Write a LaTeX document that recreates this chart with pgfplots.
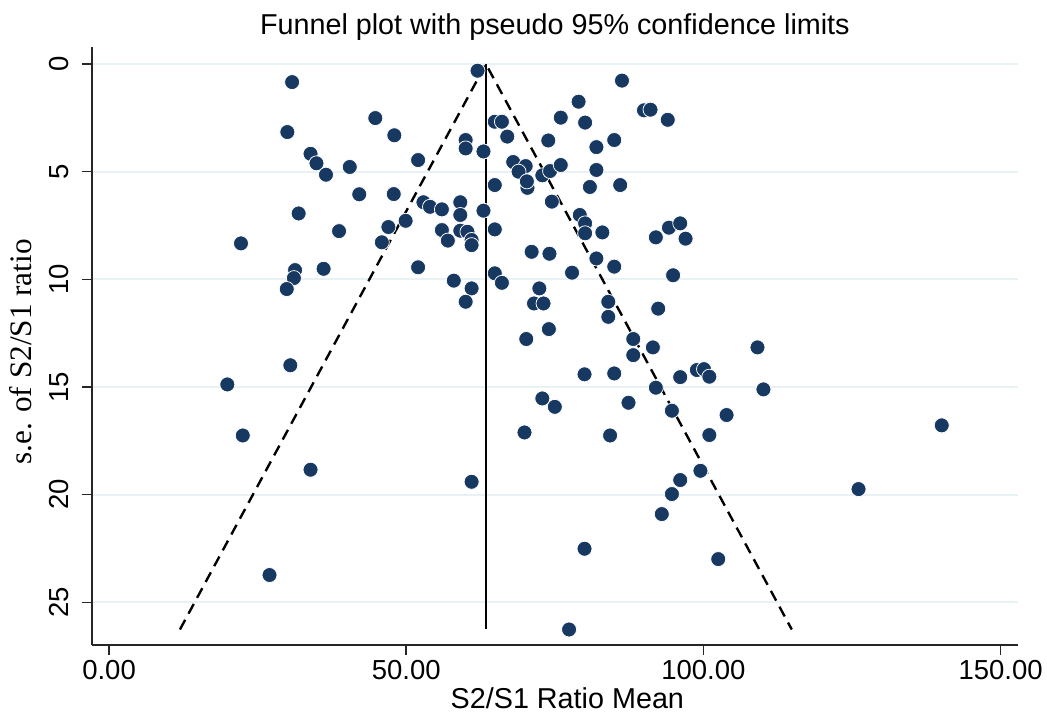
\documentclass[border=0pt]{standalone}
\usepackage{fontspec}
\setmainfont{Liberation Sans}
\newfontfamily\seriffont{Liberation Serif}
\usepackage{graphicx}
\usepackage{pgfplots}
\pgfplotsset{compat=1.18}
\definecolor{navy}{RGB}{23,57,97}
\definecolor{gridc}{RGB}{232,241,243}

\begin{document}
\begin{tikzpicture}
\begin{axis}[
    scale only axis,
    width=370.5pt, height=239.2pt,
    xmin=-2.91, xmax=152.93,
    ymin=-0.79, ymax=26.98,
    y dir=reverse,
    axis x line*=bottom, axis y line*=left,
    axis line style={line width=0.8pt, black!85},
    xtick={0,50,100,150},
    xticklabels={0.00,50.00,100.00,150.00},
    ytick={0,5,10,15,20,25},
    yticklabel={\rotatebox{90}{\pgfmathprintnumber{\tick}}},
    tick align=outside,
    major tick length=4pt,
    tick style={line width=0.6pt, black!85},
    ymajorgrids,
    grid style={line width=0.8pt, gridc},
    /pgf/number format/assume math mode=true,
    ticklabel style={font=\fontsize{11}{13}\selectfont},
    xticklabel style={anchor=base, yshift=-9.6pt, inner sep=0pt},
    yticklabel style={anchor=east, xshift=-5.1pt, inner sep=0pt},
    title={Funnel plot with pseudo 95\% confidence limits},
    title style={at={(0.5,1)}, anchor=base, yshift=-0.8pt, font=\fontsize{11.5}{13}\selectfont},
    xlabel={S2/S1 Ratio Mean},
    xlabel style={at={(0.5,0)}, anchor=base, yshift=-25.4pt, xshift=5pt, font=\fontsize{11.5}{13}\selectfont},
    ylabel={s.e. of S2/S1 ratio},
    ylabel style={at={(axis description cs:-0.065,0.49)}, anchor=base, font=\seriffont\fontsize{12.5}{14}\selectfont},
    clip=false
]
% pseudo 95% limits
\addplot[black, line width=0.95pt, dash pattern=on 4.4pt off 2.8pt] coordinates {
    (11.93,26.26) (63.4,0) (114.87,26.26)
};
\addplot[black, line width=0.9pt] coordinates {(63.4,0) (63.4,26.26)};
% studies
\addplot[only marks, mark=*, mark size=3pt,
    mark options={fill=navy, draw=white, line width=0.3pt}] table {
x y
30.8 0.84
30.0 3.16
44.8 2.51
48.0 3.31
33.9 4.17
34.9 4.61
40.5 4.78
36.5 5.14
42.1 6.05
47.9 6.04
31.9 6.94
49.9 7.28
47.0 7.57
38.7 7.76
22.2 8.33
45.9 8.28
31.3 9.57
36.1 9.51
31.1 9.94
29.9 10.45
30.5 13.99
19.9 14.88
22.5 17.25
33.9 18.84
27.0 23.73
62.0 0.31
86.3 0.77
79.0 1.75
76.0 2.49
80.1 2.72
90.0 2.15
91.1 2.12
94.0 2.59
64.9 2.68
66.1 2.68
67.0 3.37
73.9 3.55
85.0 3.53
60.0 3.53
60.0 3.92
63.0 4.06
82.0 3.86
52.0 4.46
68.0 4.55
70.1 4.74
68.9 5.00
72.9 5.17
74.2 4.97
76.0 4.69
82.0 4.92
70.4 5.75
70.3 5.45
64.9 5.62
80.9 5.71
86.0 5.62
52.9 6.42
54.0 6.63
56.0 6.75
59.1 6.42
59.1 7.01
63.0 6.81
74.5 6.39
56.0 7.71
57.0 8.20
59.1 7.74
60.3 7.79
61.0 8.17
61.0 8.41
64.9 7.68
79.2 7.01
80.1 7.40
80.1 7.86
83.0 7.82
92.0 8.05
94.2 7.60
96.1 7.40
97.0 8.11
71.1 8.72
74.1 8.81
82.0 9.03
85.0 9.41
52.0 9.44
77.9 9.69
64.9 9.72
66.1 10.16
58.0 10.06
61.0 10.42
60.0 11.04
72.4 10.42
71.5 11.12
73.1 11.12
94.9 9.81
84.0 11.04
84.0 11.74
92.4 11.36
74.0 12.31
70.2 12.77
88.2 12.77
91.5 13.16
88.2 13.52
80.0 14.41
85.0 14.37
96.1 14.54
98.9 14.21
100.1 14.17
101.0 14.52
92.0 15.03
72.9 15.53
75.0 15.92
87.4 15.73
94.7 16.10
103.9 16.30
69.9 17.11
84.3 17.25
101.0 17.23
99.5 18.89
96.1 19.32
94.7 19.97
93.0 20.90
61.0 19.40
80.0 22.51
102.5 22.99
77.4 26.26
109.1 13.16
110.1 15.11
140.1 16.78
126.1 19.74
};
\end{axis}
\path (current axis.south west) ++(-36.7pt,-28.8pt) coordinate (bbA);
\path (current axis.north east) ++(11.6pt,18.8pt) coordinate (bbB);
\pgfresetboundingbox
\useasboundingbox (bbA) rectangle (bbB);
\end{tikzpicture}
\end{document}
